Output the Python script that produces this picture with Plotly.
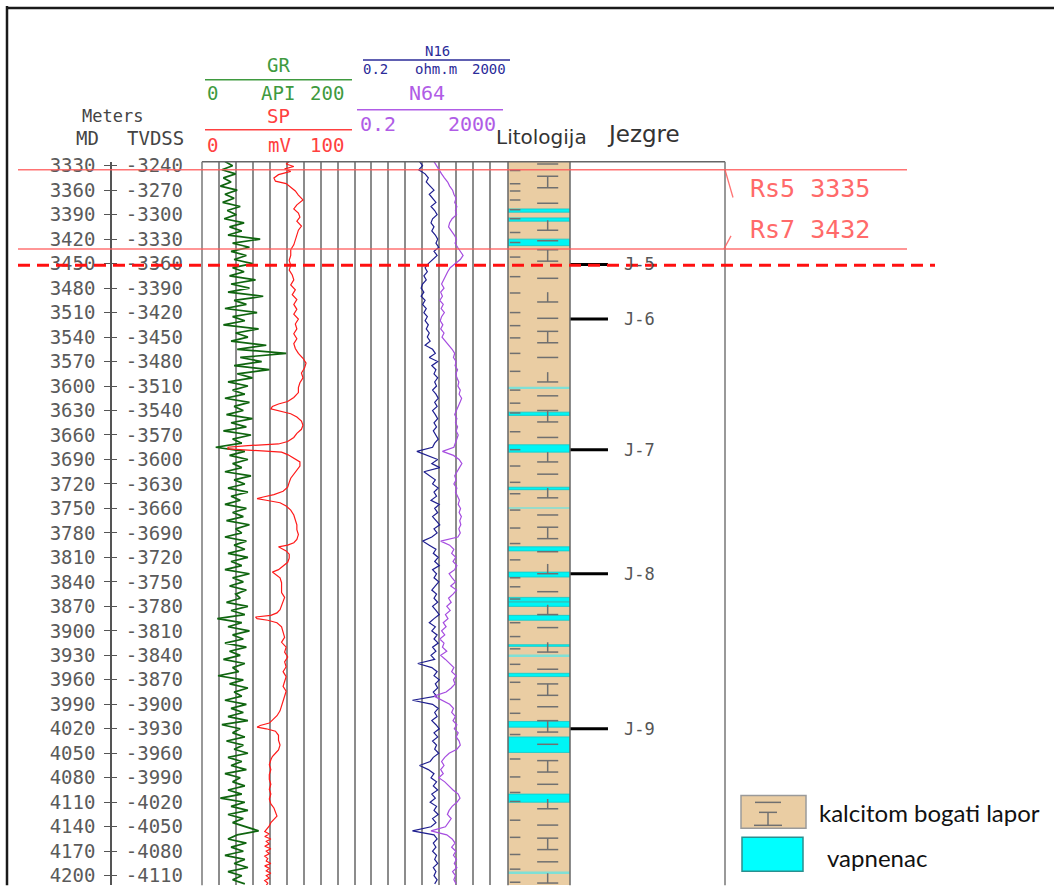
import numpy as np
import plotly.graph_objects as go

W, H = 1054, 886

# depth axis (MD and TVDSS labels)
md_ticks = [3330, 3360, 3390, 3420, 3450, 3480, 3510, 3540, 3570, 3600,
            3630, 3660, 3690, 3720, 3750, 3780, 3810, 3840, 3870, 3900,
            3930, 3960, 3990, 4020, 4050, 4080, 4110, 4140, 4170, 4200]
tvdss_labels = ['-3240', '-3270', '-3300', '-3330', '-3360', '-3390', '-3420', '-3450', '-3480', '-3510',
                '-3540', '-3570', '-3600', '-3630', '-3660', '-3690', '-3720', '-3750', '-3780', '-3810',
                '-3840', '-3870', '-3900', '-3930', '-3960', '-3990', '-4020', '-4050', '-4080', '-4110']
top_md, base_md = 3325.1, 4211.4

# logs sampled every 5 m from 3325 m MD
log_start, log_step = 3325, 5
gr = [30, 40, 26, 44, 28, 38, 24, 46, 30, 42, 27, 50, 33, 45, 29, 55, 36, 52, 34, 76,
      40, 62, 38, 58, 42, 66, 40, 55, 36, 70, 38, 62, 34, 80, 42, 58, 30, 72, 40, 56,
      28, 74, 44, 60, 38, 84, 46, 110, 50, 78, 42, 88, 46, 66, 34, 60, 40, 56, 30, 62,
      42, 54, 32, 66, 38, 58, 28, 64, 40, 52, 18, 56, 36, 60, 40, 52, 30, 64, 42, 56,
      34, 60, 38, 50, 30, 58, 40, 54, 32, 62, 44, 52, 30, 58, 42, 56, 34, 60, 38, 52,
      30, 62, 40, 54, 36, 58, 44, 50, 32, 60, 38, 56, 20, 52, 34, 62, 40, 54, 30, 58,
      36, 50, 28, 56, 40, 48, 21, 54, 36, 60, 42, 52, 30, 58, 38, 54, 34, 60, 26, 50,
      40, 56, 32, 54, 42, 60, 34, 52, 38, 58, 30, 50, 40, 56, 34, 52, 24, 56, 38, 60,
      34, 54, 40, 58, 74, 46, 34, 58, 38, 54, 30, 56, 42, 60, 34, 52, 40, 56]
n16 = [10, 12, 9.5, 14, 17, 15, 19, 24, 18, 22, 27, 20, 25, 29, 22, 20, 24, 21, 26, 30,
       27, 32, 24, 29, 22, 17, 14, 16, 13, 15, 12, 11, 13, 11, 14, 12, 15, 13, 16, 14,
       17, 15, 18, 16, 19, 14, 22, 26, 18, 30, 21, 27, 24, 30, 25, 28, 22, 27, 31, 25,
       29, 22, 26, 30, 24, 28, 23, 27, 31, 25, 22, 8.5, 17, 30, 21, 34, 13, 19, 26, 22,
       31, 24, 28, 20, 33, 25, 30, 22, 27, 34, 24, 29, 21, 12, 18, 27, 23, 31, 25, 33,
       22, 28, 24, 32, 26, 21, 28, 24, 30, 22, 27, 33, 24, 18, 26, 21, 29, 24, 31, 22,
       27, 20, 25, 9, 21, 29, 24, 33, 26, 30, 23, 28, 6.5, 22, 31, 25, 29, 21, 27, 33,
       24, 30, 22, 28, 25, 32, 23, 19, 10, 17, 24, 20, 28, 23, 30, 21, 26, 19, 28, 24,
       31, 22, 27, 20, 6.5, 24, 29, 23, 27, 22, 28, 25, 30, 23, 27, 24, 29, 25]
n64 = [24, 28, 31, 38, 45, 55, 62, 74, 80, 92, 84, 96, 88, 94, 72, 62, 58, 70, 82, 94,
       86, 100, 120, 140, 118, 86, 64, 55, 48, 42, 38, 44, 36, 40, 34, 42, 37, 45, 38, 35,
       41, 36, 44, 39, 48, 60, 72, 84, 78, 92, 86, 100, 90, 96, 108, 102, 118, 110, 128, 116,
       104, 92, 84, 96, 88, 100, 92, 104, 96, 88, 80, 40, 78, 110, 130, 112, 96, 84, 92, 80,
       96, 88, 100, 112, 104, 120, 110, 126, 114, 122, 108, 118, 102, 36, 62, 80, 70, 90, 76, 96,
       84, 60, 72, 88, 66, 94, 76, 58, 68, 52, 64, 48, 56, 42, 50, 38, 46, 34, 44, 40,
       52, 36, 48, 62, 80, 70, 92, 78, 86, 68, 50, 24, 40, 62, 78, 70, 88, 76, 96, 82,
       104, 92, 110, 118, 96, 60, 46, 38, 44, 36, 42, 32, 46, 58, 76, 104, 116, 96, 72, 60,
       54, 68, 58, 48, 20, 52, 72, 86, 70, 90, 78, 94, 82, 96, 74, 88, 80, 92]
sp_log = [(3325, 57), (3328, 55), (3331, 60), (3334, 54), (3337, 58), (3341, 50), (3345, 47), (3349, 48),
          (3352, 55), (3356, 58), (3361, 61), (3366, 63), (3372, 66), (3378, 62), (3383, 60), (3388, 63),
          (3393, 64), (3398, 62), (3404, 65), (3409, 63), (3415, 62), (3421, 61), (3427, 60), (3433, 58),
          (3440, 58), (3446, 57), (3452, 58), (3458, 57), (3464, 59), (3470, 60), (3476, 58), (3482, 61),
          (3488, 59), (3494, 62), (3500, 60), (3506, 62), (3512, 60), (3518, 63), (3524, 61), (3530, 62),
          (3536, 60), (3542, 62), (3548, 60), (3554, 61), (3560, 63), (3566, 66), (3572, 68), (3578, 67),
          (3584, 65), (3590, 66), (3596, 64), (3602, 63), (3608, 63), (3614, 60), (3619, 56), (3622, 50),
          (3625, 46), (3628, 45), (3631, 52), (3634, 58), (3638, 62), (3643, 65), (3648, 66), (3653, 65),
          (3658, 62), (3663, 60), (3668, 56), (3671, 50), (3673, 30), (3675, 17), (3677, 17), (3679, 35),
          (3681, 52), (3684, 56), (3688, 60), (3693, 64), (3698, 64), (3703, 62), (3708, 60), (3713, 58),
          (3718, 57), (3724, 56), (3729, 53), (3733, 47), (3736, 40), (3738, 36), (3740, 42), (3743, 51),
          (3747, 55), (3752, 58), (3758, 60), (3764, 61), (3770, 62), (3776, 62), (3782, 63), (3788, 62),
          (3792, 60), (3795, 56), (3797, 50), (3799, 52), (3802, 55), (3806, 57), (3811, 57), (3816, 56),
          (3821, 53), (3825, 50), (3828, 46), (3831, 48), (3835, 51), (3841, 52), (3847, 52), (3853, 52),
          (3859, 54), (3864, 53), (3869, 52), (3874, 51), (3878, 49), (3881, 45), (3883, 35), (3885, 36),
          (3887, 43), (3890, 49), (3895, 52), (3902, 53), (3908, 54), (3914, 52), (3920, 55), (3926, 54),
          (3932, 56), (3938, 54), (3944, 55), (3950, 53), (3956, 55), (3962, 54), (3968, 53), (3974, 55),
          (3980, 54), (3986, 53), (3992, 52), (3998, 51), (4004, 49), (4009, 46), (4013, 44), (4016, 38),
          (4018, 36), (4020, 42), (4023, 48), (4028, 50), (4034, 50), (4040, 51), (4046, 50), (4050, 48),
          (4054, 46), (4058, 45), (4064, 44), (4070, 45), (4076, 44), (4082, 44), (4088, 45), (4094, 44),
          (4100, 45), (4106, 44), (4112, 45), (4117, 47), (4122, 48), (4127, 49), (4131, 47), (4135, 45),
          (4139, 44), (4143, 42), (4146, 41), (4149, 44), (4152, 41), (4155, 45), (4158, 42), (4161, 44),
          (4164, 41), (4167, 45), (4170, 42), (4173, 44), (4176, 41), (4179, 43), (4182, 42), (4185, 45),
          (4188, 41), (4191, 44), (4194, 42), (4197, 45), (4200, 42), (4203, 44), (4206, 41), (4209, 43),
          (4212, 42)]

# formation tops and cores
tops = ['Rs5', 'Rs7']
tops_md = [3335, 3432]
marker_md = 3452
cores = ['J-5', 'J-6', 'J-7', 'J-8', 'J-9']
core_md = [3451, 3518, 3678, 3830, 4020]

# lithology: calcareous marl with limestone beds
marl_top, marl_base = 3325.1, 4211.4
lime_top = [3383, 3394, 3420, 3632, 3672, 3724, 3797, 3828, 3859, 3865, 3881, 3917, 3952, 4011, 4030, 4100]
lime_base = [3387, 3398, 3428, 3636, 3681, 3727, 3802, 3834, 3864, 3870, 3887, 3919, 3956, 4018, 4049, 4110]
faint_top = [3601, 3748.5, 3929, 4195]
faint_base = [3603.5, 3750.5, 3932, 4198]
lith_dash_md = [3336, 3352, 3361, 3372, 3384, 3395, 3412, 3424, 3442, 3466, 3486, 3510, 3526, 3541, 3560, 3582,
                3605, 3621, 3633, 3656, 3678, 3698, 3718, 3732, 3752, 3774, 3793, 3813, 3835, 3846, 3861, 3890,
                3907, 3922, 3941, 3963, 3984, 4001, 4027, 4057, 4079, 4098, 4109, 4132, 4153, 4174, 4192, 4208]
lith_bar_md = [3328, 3376, 3422, 3468, 3517, 3565, 3612, 3663, 3708, 3758, 3803, 3852, 3896, 3947, 3993,
               4039, 4088, 4138, 4183]
lith_sym_md = [3350, 3403, 3440, 3491, 3540, 3589, 3637, 3687, 3731, 3780, 3824, 3874, 3920, 3972, 4017,
               4066, 4112, 4161, 4203]
lith_sym_kind = ['I', 'T', 'I', 'T', 'I', 'T', 'I', 'T', 'T', 'I', 'T', 'T', 'T', 'I', 'I', 'I', 'T', 'I', 'T']


def px(x):
    return x / W


def py(y):
    # page pixel (from top) -> paper y; the viewer shifts/squeezes the page slightly
    return 1 - ((y - 6) / 0.993) / H


log_md = log_start + log_step * np.arange(len(gr))
sp_md = [p[0] for p in sp_log]
sp = [p[1] for p in sp_log]

fig = go.Figure()

# lithology column
fig.add_trace(go.Scatter(x=[0, 1, 1, 0, 0], y=[marl_top, marl_top, marl_base, marl_base, marl_top],
                         fill='toself', fillcolor='#EACDA3', mode='lines', line=dict(width=0),
                         xaxis='x5', yaxis='y', hoverinfo='skip'))


def band_poly(tops_, bases_):
    xs, ys = [], []
    for t, b in zip(tops_, bases_):
        xs += [0, 1, 1, 0, 0, None]
        ys += [t, t, b, b, t, None]
    return xs, ys


bx, by = band_poly(lime_top, lime_base)
fig.add_trace(go.Scatter(x=bx, y=by, fill='toself', fillcolor='#00F5F5', mode='lines',
                         line=dict(width=0.8, color='#13c6c6'), xaxis='x5', yaxis='y', hoverinfo='skip'))
fx, fy = band_poly(faint_top, faint_base)
fig.add_trace(go.Scatter(x=fx, y=fy, fill='toself', fillcolor='#7fe0d6', mode='lines',
                         line=dict(width=0), xaxis='x5', yaxis='y', hoverinfo='skip'))

# marl pattern
sx, sy = [], []
for d in lith_dash_md:
    sx += [0.03, 0.2, None]
    sy += [d, d, None]
for d in lith_bar_md:
    sx += [0.47, 0.81, None]
    sy += [d, d, None]
for d, k in zip(lith_sym_md, lith_sym_kind):
    if k == 'I':
        sx += [0.47, 0.81, None, 0.47, 0.81, None, 0.64, 0.64, None]
        sy += [d - 7, d - 7, None, d + 7, d + 7, None, d - 7, d + 7, None]
    else:
        sx += [0.64, 0.64, None, 0.47, 0.81, None]
        sy += [d - 6, d + 6, None, d + 6, d + 6, None]
fig.add_trace(go.Scatter(x=sx, y=sy, mode='lines', line=dict(color='#707070', width=1.5),
                         xaxis='x5', yaxis='y', hoverinfo='skip'))

# logs
fig.add_trace(go.Scatter(x=gr, y=log_md, mode='lines', line=dict(color='#0f650f', width=1.7),
                         xaxis='x2', yaxis='y', hoverinfo='skip'))
fig.add_trace(go.Scatter(x=sp, y=sp_md, mode='lines', line=dict(color='#ff1a1a', width=1.2),
                         xaxis='x3', yaxis='y', hoverinfo='skip'))
fig.add_trace(go.Scatter(x=n16, y=log_md, mode='lines', line=dict(color='#1f1f8f', width=1.2),
                         xaxis='x4', yaxis='y', hoverinfo='skip'))
fig.add_trace(go.Scatter(x=n64, y=log_md, mode='lines', line=dict(color='#a64de0', width=1.2),
                         xaxis='x4', yaxis='y', hoverinfo='skip'))

# cores
cx, cy = [], []
for d in core_md:
    cx += [0, 0.245, None]
    cy += [d, d, None]
fig.add_trace(go.Scatter(x=cx, y=cy, mode='lines', line=dict(color='black', width=3),
                         xaxis='x6', yaxis='y', hoverinfo='skip'))
for name, d in zip(cores, core_md):
    fig.add_annotation(text=name, x=0.335, y=d, xref='x6', yref='y', xanchor='left', showarrow=False,
                       font=dict(family='DejaVu Sans Mono', size=17, color='#555'))

# dummy traces so the grid axis and the TVDSS axis are drawn
fig.add_trace(go.Scatter(x=[None], y=[None], xaxis='x', yaxis='y', hoverinfo='skip'))
fig.add_trace(go.Scatter(x=[None], y=[None], xaxis='x', yaxis='y2', hoverinfo='skip'))

shapes = []


def pline(x0, y0, x1, y1, color, width=1.5, dash='solid'):
    shapes.append(dict(type='line', xref='paper', yref='paper', x0=px(x0), y0=py(y0), x1=px(x1), y1=py(y1),
                       line=dict(color=color, width=width, dash=dash)))


# frames
pline(7, 5, 7, 886, '#1a1a1a', 2.5)
pline(6, 7, 1054, 7, '#1a1a1a', 2.5)
pline(202, 161, 725, 161, '#666', 1.5)
pline(202, 161, 202, 886, '#777', 1.5)
pline(508, 161, 508, 886, '#666', 1.5)
pline(570, 161, 570, 886, '#666', 1.5)
pline(725, 161, 725, 886, '#777', 1.5)

# header scale lines
pline(205, 79, 352, 79, '#3f9a3f', 1.5)
pline(205, 129, 352, 129, '#ff4040', 1.5)
pline(363, 59, 510, 59, '#2b2b99', 1.5)
pline(357, 109, 503, 109, '#b05ce6', 1.5)

# formation tops
for name, d in zip(tops, tops_md):
    shapes.append(dict(type='line', xref='paper', yref='y', x0=px(18), x1=px(907), y0=d, y1=d,
                       line=dict(color='rgba(255,90,90,0.85)', width=1.5)))
shapes.append(dict(type='line', xref='paper', yref='y', x0=px(725), x1=px(733), y0=tops_md[0], y1=tops_md[0] + 34,
                   line=dict(color='rgba(255,90,90,0.85)', width=1.3)))
shapes.append(dict(type='line', xref='paper', yref='y', x0=px(724), x1=px(731), y0=tops_md[1], y1=tops_md[1] - 16,
                   line=dict(color='rgba(255,90,90,0.85)', width=1.3)))
fig.add_annotation(text=f'{tops[0]} {tops_md[0]}', x=px(748), y=tops_md[0] + 23, xref='paper', yref='y',
                   xanchor='left', showarrow=False, font=dict(family='DejaVu Sans Mono', size=25, color='#ff6a6a'))
fig.add_annotation(text=f'{tops[1]} {tops_md[1]}', x=px(748), y=tops_md[1] - 24, xref='paper', yref='y',
                   xanchor='left', showarrow=False, font=dict(family='DejaVu Sans Mono', size=25, color='#ff6a6a'))
shapes.append(dict(type='line', xref='paper', yref='y', x0=px(18), x1=px(935), y0=marker_md, y1=marker_md,
                   line=dict(color='#ff1010', width=3, dash='12px,7px')))

# legend boxes
shapes.append(dict(type='rect', xref='paper', yref='paper', x0=px(741), x1=px(806), y0=py(829), y1=py(796),
                   fillcolor='#EACDA3', line=dict(color='#9a9a9a', width=1.5)))
pline(755, 803, 781, 803, '#707070', 1.5)
pline(759, 813, 777, 813, '#707070', 1.5)
pline(768, 813, 768, 826, '#707070', 1.5)
pline(754, 826, 782, 826, '#707070', 1.5)
shapes.append(dict(type='rect', xref='paper', yref='paper', x0=px(742), x1=px(803), y0=py(872), y1=py(838),
                   fillcolor='#00FFFF', line=dict(color='#2a8f8f', width=1.5)))


def label(text, x, y, size, color, family='DejaVu Sans Mono', xanchor='center'):
    fig.add_annotation(text=text, x=px(x), y=py(y), xref='paper', yref='paper', showarrow=False,
                       xanchor=xanchor, yanchor='middle', font=dict(family=family, size=size, color=color))


label('Meters', 112, 115, 17, '#444')
label('MD', 87, 137, 19, '#444')
label('TVDSS', 155, 137, 19, '#444')
label('GR', 278, 64, 19, '#3f9a3f')
label('0', 212, 92, 19, '#3f9a3f')
label('API', 278, 92, 19, '#3f9a3f')
label('200', 327, 92, 19, '#3f9a3f')
label('SP', 278, 115, 19, '#ff4040')
label('0', 212, 144, 19, '#ff4040')
label('mV', 279, 144, 19, '#ff4040')
label('100', 327, 144, 19, '#ff4040')
label('N16', 437, 50, 14, '#2b2b99')
label('0.2', 375, 68, 14, '#2b2b99')
label('ohm.m', 436, 68, 14, '#2b2b99')
label('2000', 489, 68, 14, '#2b2b99')
label('N64', 427, 92, 20, '#b05ce6')
label('0.2', 378, 123, 20, '#b05ce6')
label('2000', 472, 123, 20, '#b05ce6')
label('Litologija', 541, 136, 20, '#333', family='DejaVu Sans')
label('Jezgre', 643, 133, 23, '#333', family='DejaVu Sans')
label('kalcitom bogati lapor', 817, 813, 24, '#111', family='Lato', xanchor='left')
label('vapnenac', 825, 858, 24, '#111', family='Lato', xanchor='left')

hidden = dict(visible=False, anchor='y', fixedrange=True)
fig.update_layout(
    width=W, height=H, margin=dict(l=0, r=0, t=0, b=0),
    paper_bgcolor='white', plot_bgcolor='rgba(0,0,0,0)',
    showlegend=False, hovermode=False, shapes=shapes,
    xaxis=dict(domain=[px(202), px(507)], range=[0, 18], tickmode='linear', tick0=0, dtick=1,
               showgrid=True, gridcolor='#8c8c8c', gridwidth=1.5, zeroline=False, showticklabels=False,
               ticks='', showline=False, anchor='y', fixedrange=True),
    xaxis2=dict(domain=[px(202), px(355)], range=[0, 200], **hidden),
    xaxis3=dict(domain=[px(202), px(355)], range=[0, 100], overlaying='x2', **hidden),
    xaxis4=dict(domain=[px(355), px(507)], type='log', range=[np.log10(0.2), np.log10(2000)], **hidden),
    xaxis5=dict(domain=[px(508), px(570)], range=[0, 1], **hidden),
    xaxis6=dict(domain=[px(570), px(725)], range=[0, 1], **hidden),
    yaxis=dict(domain=[max(0.0, py(886)), py(161)], range=[base_md, top_md], anchor='free', position=px(111),
               side='left', tickmode='array', tickvals=md_ticks, ticktext=[str(v) for v in md_ticks],
               ticks='outside', ticklen=6, tickwidth=1.2, tickcolor='#555',
               showline=True, linecolor='#555', linewidth=1.5, showgrid=False, zeroline=False,
               ticklabelstandoff=5, ticklabeloverflow='allow',
               tickfont=dict(family='DejaVu Sans Mono', size=19, color='#5a5a5a'), fixedrange=True),
    yaxis2=dict(overlaying='y', range=[base_md, top_md], anchor='free', position=px(111), side='right',
                tickmode='array', tickvals=md_ticks, ticktext=tvdss_labels,
                ticks='outside', ticklen=5, tickwidth=1.2, tickcolor='#555',
                showline=False, showgrid=False, zeroline=False, ticklabelstandoff=5,
                ticklabeloverflow='allow',
                tickfont=dict(family='DejaVu Sans Mono', size=19, color='#5a5a5a'), fixedrange=True),
)

fig.write_html('out.html', config={'displayModeBar': False},
               post_script="document.body.style.margin='0';")
